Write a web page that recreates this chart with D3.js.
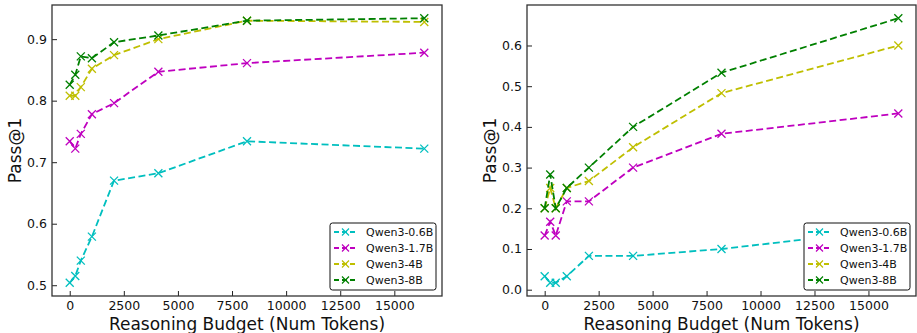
<!DOCTYPE html>
<html>
<head>
<meta charset="utf-8">
<script src="https://cdn.jsdelivr.net/npm/d3@7"></script>
<style>
  body { margin: 0; background: #fff; }
  svg { display: block; font-family: "DejaVu Sans", sans-serif; }
</style>
</head>
<body>
<div id="chart"></div>
<script>
// reasoning budget on the x axis (tokens)
const budgets = [0, 256, 512, 1024, 2048, 4096, 8192, 16384]
const models = ["Qwen3-0.6B", "Qwen3-1.7B", "Qwen3-4B", "Qwen3-8B"]
const colors = ["#00bfbf", "#bf00bf", "#bfbf00", "#008000"]

// left panel, pass@1 per model
const leftQwen06 = [0.504, 0.515, 0.540, 0.579, 0.670, 0.682, 0.734, 0.722]
const leftQwen17 = [0.734, 0.722, 0.746, 0.778, 0.796, 0.847, 0.861, 0.878]
const leftQwen4 = [0.808, 0.808, 0.822, 0.852, 0.874, 0.900, 0.930, 0.928]
const leftQwen8 = [0.826, 0.842, 0.872, 0.869, 0.895, 0.906, 0.930, 0.934]

// right panel, pass@1 per model
const rightQwen06 = [0.033, 0.017, 0.017, 0.033, 0.083, 0.083, 0.100, 0.150]
const rightQwen17 = [0.133, 0.167, 0.133, 0.217, 0.217, 0.300, 0.383, 0.433]
const rightQwen4 = [0.200, 0.250, 0.200, 0.250, 0.267, 0.350, 0.483, 0.600]
const rightQwen8 = [0.200, 0.283, 0.200, 0.250, 0.300, 0.400, 0.533, 0.667]

const xTicks = [0, 2500, 5000, 7500, 10000, 12500, 15000]
const leftYTicks = [0.5, 0.6, 0.7, 0.8, 0.9]
const rightYTicks = [0.0, 0.1, 0.2, 0.3, 0.4, 0.5, 0.6]

const W = 917, H = 333

const svg = d3.select("#chart").append("svg")
    .attr("width", W)
    .attr("height", H)

// matplotlib-ish 5% margins around the data
function padded(ext) {
  const m = (ext[1] - ext[0]) * 0.05
  return [ext[0] - m, ext[1] + m]
}

function panel(box, series, yTicks, labelX) {
  const g = svg.append("g")

  const x = d3.scaleLinear()
      .domain(padded(d3.extent(budgets)))
      .range([box.left, box.right])
  const y = d3.scaleLinear()
      .domain(padded(d3.extent(series.flat())))
      .range([box.bottom, box.top])

  // inward ticks, no domain path (frame drawn separately)
  const xAxis = g.append("g")
      .attr("transform", `translate(0,${box.bottom})`)
      .call(d3.axisTop(x).tickValues(xTicks).tickFormat(d3.format("d")).tickSize(5).tickPadding(0))
  xAxis.select(".domain").remove()
  xAxis.selectAll("line").attr("stroke", "#222").attr("stroke-width", 1)
  xAxis.selectAll("text")
      .attr("y", 14)
      .attr("dy", 0)
      .attr("font-size", 12.5)
      .attr("font-family", "DejaVu Sans")
      .attr("fill", "#111")

  const yAxis = g.append("g")
      .attr("transform", `translate(${box.left},0)`)
      .call(d3.axisRight(y).tickValues(yTicks).tickFormat(d3.format(".1f")).tickSize(5))
  yAxis.select(".domain").remove()
  yAxis.selectAll("line").attr("stroke", "#222").attr("stroke-width", 1)
  yAxis.selectAll("text")
      .attr("x", -5)
      .attr("text-anchor", "end")
      .attr("font-size", 12.5)
      .attr("font-family", "DejaVu Sans")
      .attr("fill", "#111")

  const line = d3.line()
      .x((d, i) => x(budgets[i]))
      .y(d => y(d))

  series.forEach((vals, k) => {
    g.append("path")
        .datum(vals)
        .attr("d", line)
        .attr("fill", "none")
        .attr("stroke", colors[k])
        .attr("stroke-width", 1.8)
        .attr("stroke-dasharray", "7,3.5")

    g.append("g")
      .selectAll("path")
      .data(vals)
      .join("path")
        .attr("transform", (d, i) => `translate(${x(budgets[i])},${y(d)})`)
        .attr("d", "M-4,-4L4,4M-4,4L4,-4")
        .attr("stroke", colors[k])
        .attr("stroke-width", 1.3)
  })

  // frame
  g.append("rect")
      .attr("x", box.left)
      .attr("y", box.top)
      .attr("width", box.right - box.left)
      .attr("height", box.bottom - box.top)
      .attr("fill", "none")
      .attr("stroke", "#333")
      .attr("stroke-width", 1.3)

  // legend, lower right
  const lg = g.append("g")
      .attr("transform", `translate(${box.right - 112},${box.bottom - 73})`)
  lg.append("rect")
      .attr("width", 106)
      .attr("height", 67)
      .attr("rx", 2.5)
      .attr("fill", "#fff")
      .attr("stroke", "#111")
      .attr("stroke-width", 1)
  models.forEach((name, k) => {
    const row = lg.append("g").attr("transform", `translate(0,${9 + k * 16})`)
    row.append("line")
        .attr("x1", 4).attr("x2", 27)
        .attr("stroke", colors[k])
        .attr("stroke-width", 1.8)
        .attr("stroke-dasharray", "5,3")
    row.append("path")
        .attr("transform", "translate(15.5,0)")
        .attr("d", "M-3.5,-3.5L3.5,3.5M-3.5,3.5L3.5,-3.5")
        .attr("stroke", colors[k])
        .attr("stroke-width", 1.2)
    row.append("text")
        .attr("x", 36)
        .attr("dy", "0.35em")
        .attr("font-size", 11)
        .attr("fill", "#111")
        .text(name)
  })

  // axis titles
  g.append("text")
      .attr("x", (box.left + box.right) / 2)
      .attr("y", 330)
      .attr("text-anchor", "middle")
      .attr("font-size", 17)
      .attr("fill", "#111")
      .text("Reasoning Budget (Num Tokens)")
  g.append("text")
      .attr("transform", `translate(${labelX},${(box.top + box.bottom) / 2}) rotate(-90)`)
      .attr("text-anchor", "middle")
      .attr("font-size", 17)
      .attr("fill", "#111")
      .text("Pass@1")
}

panel({left: 52, right: 442, top: 5, bottom: 296},
      [leftQwen06, leftQwen17, leftQwen4, leftQwen8], leftYTicks, 21)
panel({left: 527, right: 916, top: 5, bottom: 296},
      [rightQwen06, rightQwen17, rightQwen4, rightQwen8], rightYTicks, 496)
</script>
</body>
</html>
